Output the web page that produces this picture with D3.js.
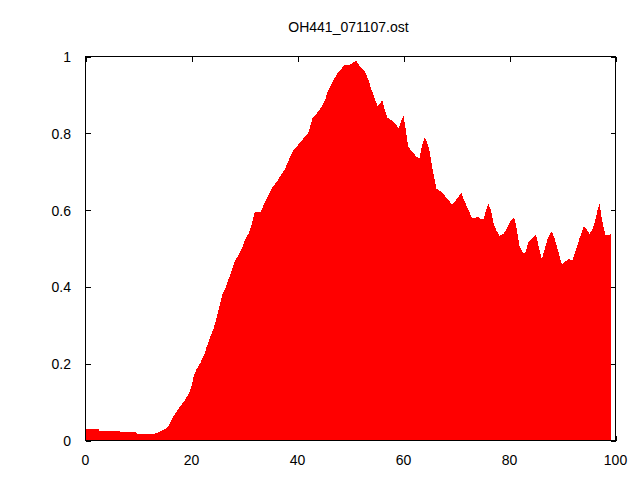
<!DOCTYPE html>
<html>
<head>
<meta charset="utf-8">
<script src="https://cdn.jsdelivr.net/npm/d3@7"></script>
<style>
html,body{margin:0;padding:0;background:#fff;}
svg{display:block;}
</style>
</head>
<body>
<svg id="chart" width="640" height="480"></svg>
<script>
const title = "OH441_071107.ost";
const xTicks = [0, 20, 40, 60, 80, 100];
const yTicks = [0, 0.2, 0.4, 0.6, 0.8, 1];
const yTickLabels = ["0", "0.2", "0.4", "0.6", "0.8", "1"];

const xs = [0, 2.5, 2.6, 6.5, 6.6, 7.5, 7.6, 9.6, 9.7, 13.1, 13.6, 14.0, 14.4, 15.0, 15.5,
  16, 16.6, 17.2, 17.9, 18.5, 19.1, 19.7, 20.1, 20.4, 20.9, 21.6, 22.3, 22.9, 23.5, 24.2,
  24.8, 25.4, 25.9, 26.4, 27, 27.6, 28.2, 28.9, 29.5, 30.1, 30.8, 31.4, 31.7, 32, 33.1,
  33.6, 34.2, 34.8, 35.3, 36.1, 36.7, 37.5, 38.1, 38.6, 39.2, 39.9, 40.5, 41.3, 41.9,
  42.4, 42.8, 43.3, 44, 44.6, 45.2, 45.8, 46.5, 47.1, 47.7, 48.4, 49, 49.9, 50.3, 51,
  51.8, 52.8, 53.4, 54, 54.7, 55.1, 55.6, 56, 56.5, 57, 57.8, 58.4, 59.1, 59.6, 60,
  60.4, 60.9, 61.6, 62.4, 63, 63.5, 64, 64.6, 65, 65.5, 66.2, 66.9, 67.7, 68.5, 69.1,
  69.8, 70.4, 70.9, 71.4, 72.3, 72.9, 73.5, 74, 74.5, 75.1, 75.6, 76, 76.5, 77, 77.5,
  78.1, 78.9, 79.5, 80.1, 80.9, 81.4, 81.9, 82.5, 83, 83.6, 84.2, 85, 85.5, 86.1, 86.6,
  87.2, 88, 88.6, 89.2, 89.9, 90.5, 91.1, 91.9, 92.6, 93.2, 94, 94.5, 95.1, 95.7, 96.2,
  96.6, 97, 97.4, 98.1, 98.7, 99.1];
const ys = [0.029, 0.029, 0.026, 0.026, 0.023, 0.023, 0.021, 0.021, 0.018, 0.018, 0.02, 0.023, 0.026, 0.03, 0.035,
  0.046, 0.063, 0.076, 0.089, 0.10, 0.113, 0.128, 0.145, 0.167, 0.184, 0.20, 0.22, 0.245, 0.268, 0.293,
  0.323, 0.358, 0.384, 0.397, 0.42, 0.444, 0.468, 0.483, 0.50, 0.522, 0.54, 0.565, 0.583, 0.596, 0.596,
  0.613, 0.63, 0.648, 0.66, 0.674, 0.687, 0.704, 0.721, 0.739, 0.756, 0.766, 0.777, 0.789, 0.797,
  0.818, 0.838, 0.847, 0.858, 0.87, 0.887, 0.912, 0.931, 0.946, 0.959, 0.97, 0.979, 0.979, 0.981, 0.99,
  0.974, 0.959, 0.938, 0.912, 0.886, 0.87, 0.877, 0.887, 0.86, 0.84, 0.834, 0.825, 0.814, 0.834, 0.844,
  0.812, 0.765, 0.752, 0.74, 0.734, 0.769, 0.789, 0.771, 0.747, 0.704, 0.656, 0.65, 0.639, 0.626, 0.615,
  0.624, 0.635, 0.646, 0.626, 0.60, 0.58, 0.58, 0.583, 0.578, 0.577, 0.60, 0.617, 0.60, 0.565, 0.548,
  0.533, 0.538, 0.552, 0.57, 0.581, 0.548, 0.505, 0.489, 0.489, 0.518, 0.526, 0.537, 0.505, 0.472, 0.496,
  0.526, 0.546, 0.522, 0.492, 0.457, 0.466, 0.472, 0.47, 0.498, 0.526, 0.557, 0.552, 0.538, 0.552, 0.574,
  0.60, 0.617, 0.578, 0.535, 0.535, 0.538];

const data = xs.map((x, i) => ({x: x, y: ys[i]}));

const svg = d3.select("#chart");
const pLeft = 85.5, pRight = 615.5, pTop = 56.5, pBottom = 440.5;
const xScale = d3.scaleLinear().domain([0, 100]).range([pLeft, pRight]);
const yScale = d3.scaleLinear().domain([0, 1]).range([pBottom, pTop]);
const font = "'Liberation Sans', Arial, sans-serif";
const fs = 14;
const tl = 5;

// ticks (drawn under the fill, as gnuplot does)
const tickG = svg.append("g").attr("stroke", "#000").attr("stroke-width", 1).attr("shape-rendering", "crispEdges");
xTicks.forEach(t => {
  const px = Math.round(xScale(t)) + 0.5;
  tickG.append("line").attr("x1", px).attr("x2", px).attr("y1", pBottom).attr("y2", pBottom - tl);
  tickG.append("line").attr("x1", px).attr("x2", px).attr("y1", pTop).attr("y2", pTop + tl);
});
yTicks.forEach(t => {
  const py = Math.round(yScale(t)) + 0.5;
  tickG.append("line").attr("x1", pLeft).attr("x2", pLeft + tl).attr("y1", py).attr("y2", py);
  tickG.append("line").attr("x1", pRight).attr("x2", pRight - tl).attr("y1", py).attr("y2", py);
});

// filled area
const area = d3.area()
  .x(d => xScale(d.x))
  .y0(yScale(0))
  .y1(d => yScale(d.y))
  .curve(d3.curveLinear);
svg.append("path")
  .datum(data)
  .attr("d", area)
  .attr("fill", "#ff0000")
  .attr("stroke", "none")
  .attr("shape-rendering", "crispEdges");

// border
svg.append("rect")
  .attr("x", pLeft).attr("y", pTop)
  .attr("width", pRight - pLeft).attr("height", pBottom - pTop)
  .attr("fill", "none").attr("stroke", "#000").attr("stroke-width", 1)
  .attr("shape-rendering", "crispEdges");

// tick labels
xTicks.forEach(t => {
  svg.append("text").attr("x", xScale(t)).attr("y", 465).attr("text-anchor", "middle")
    .attr("font-family", font).attr("font-size", fs).text(String(t));
});
yTicks.forEach((t, i) => {
  svg.append("text").attr("x", 71).attr("y", yScale(t) + 5.5)
    .attr("text-anchor", "end").attr("font-family", font).attr("font-size", fs)
    .text(yTickLabels[i]);
});

// title
svg.append("text").attr("x", 348.5).attr("y", 32).attr("text-anchor", "middle")
  .attr("font-family", font).attr("font-size", fs).text(title);
</script>
</body>
</html>
